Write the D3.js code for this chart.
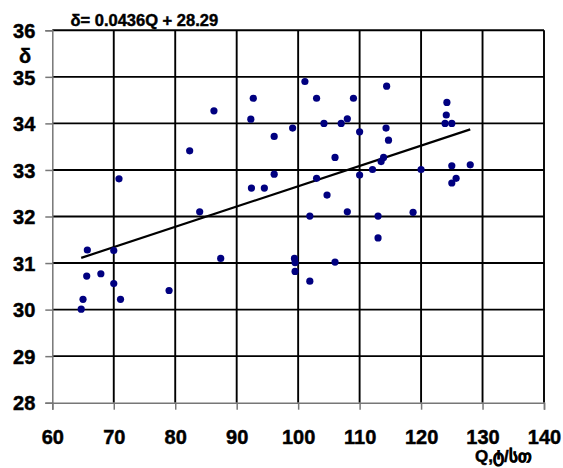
<!DOCTYPE html>
<html>
<head>
<meta charset="utf-8">
<script src="https://cdn.jsdelivr.net/npm/d3@7"></script>
<style>
  html, body { margin: 0; padding: 0; background: #fff; }
  svg { display: block; }
  text { font-family: "Liberation Sans", Arial, sans-serif; font-weight: bold; fill: #000; }
</style>
</head>
<body>
<svg id="chart" width="563" height="468"></svg>
<script>
// Discharge Q and measured δ for each observation
const qValues = [
  86.3, 82.35, 70.85, 83.98, 65.7, 70.0, 87.4, 65.6, 67.9, 70.0, 79.0, 65.0, 71.1, 64.7,
  92.7, 92.3, 101.1, 103.0, 96.1, 99.1, 104.2, 107.0, 108.0, 106.0, 96.1, 92.4, 94.5,
  103.0, 104.7, 108.0, 101.9, 99.4, 99.5, 99.5, 106.0, 101.9,
  114.4, 109.0, 110.0, 114.3, 114.7, 113.9, 113.5, 112.1, 110.0, 120.0, 124.2, 124.1,
  123.9, 125.0, 125.0, 128.0, 125.7, 125.0, 113.0, 118.7, 113.0
];
const deltaValues = [
  34.27, 33.41, 32.81, 32.10, 31.28, 31.27, 31.10, 30.72, 30.77, 30.56, 30.41, 30.22, 30.22, 30.01,
  34.54, 34.09, 34.90, 34.54, 33.72, 33.90, 34.00, 34.00, 34.10, 33.27, 32.91, 32.61, 32.61,
  32.82, 32.46, 32.10, 32.01, 31.10, 31.01, 30.82, 31.02, 30.61,
  34.80, 34.54, 33.82, 33.90, 33.64, 33.27, 33.18, 33.01, 32.89, 33.01, 34.45, 34.18,
  34.00, 34.00, 33.09, 33.11, 32.82, 32.72, 32.01, 32.09, 31.54
];

// Linear fit δ = slope·Q + intercept
const slope = 0.0436;
const intercept = 28.29;

const xTicks = [60, 70, 80, 90, 100, 110, 120, 130, 140];
const yTicks = [28, 29, 30, 31, 32, 33, 34, 35, 36];
const titleText = "δ= 0.0436Q + 28.29";
const xTitle = "Q,ტ/სთ";
const yTitle = "δ";

const svg = d3.select("#chart");
const x = d3.scaleLinear().domain([60, 140]).range([52.3, 544]);
const y = d3.scaleLinear().domain([28, 36]).range([402.7, 30.3]);

// heavy lettering used for every label
function heavy(sel, size) {
  sel.style("font-size", size + "px")
    .style("font-family", "'Liberation Sans', Arial, sans-serif")
    .style("font-weight", "bold")
    .attr("fill", "#000").attr("stroke", "#000").attr("stroke-width", 0.45);
}

// grid
const grid = svg.append("g");
grid.selectAll("line.h").data(yTicks.filter(v => v > 28)).join("line")
  .attr("x1", x(60)).attr("x2", x(140))
  .attr("y1", d => y(d)).attr("y2", d => y(d))
  .attr("stroke", "#000").attr("stroke-width", 1.9);
grid.selectAll("line.v").data(xTicks.filter(v => v > 60)).join("line")
  .attr("y1", y(28)).attr("y2", y(36))
  .attr("x1", d => x(d)).attr("x2", d => x(d))
  .attr("stroke", "#000").attr("stroke-width", 1.9);

// axes
const yAxis = d3.axisLeft(y).tickValues(yTicks).tickSize(7).tickFormat(d3.format("d"));
const gy = svg.append("g").attr("transform", `translate(${x(60)},0)`).call(yAxis);
gy.select(".domain").attr("stroke", "#777").attr("stroke-width", 1.5);
gy.selectAll(".tick line").attr("stroke", "#777").attr("stroke-width", 1.5);
gy.selectAll(".tick text").attr("x", -17).attr("dy", "0.36em").call(heavy, 20);

const xAxis = d3.axisBottom(x).tickValues(xTicks).tickSize(7).tickFormat(d3.format("d"));
const gx = svg.append("g").attr("transform", `translate(0,${y(28)})`).call(xAxis);
gx.select(".domain").attr("stroke", "#777").attr("stroke-width", 1.5);
gx.selectAll(".tick line").attr("stroke", "#777").attr("stroke-width", 1.5);
gx.selectAll(".tick text").attr("y", 27).attr("dy", "0.71em").call(heavy, 20);

// trend line across the observed Q range
const qExtent = d3.extent(qValues);
svg.append("line")
  .attr("x1", x(qExtent[0])).attr("y1", y(slope * qExtent[0] + intercept))
  .attr("x2", x(qExtent[1])).attr("y2", y(slope * qExtent[1] + intercept))
  .attr("stroke", "#000").attr("stroke-width", 2.2);

// observations
svg.append("g").selectAll("circle").data(qValues.map((q, i) => [q, deltaValues[i]])).join("circle")
  .attr("cx", d => x(d[0])).attr("cy", d => y(d[1]))
  .attr("r", 3.6).attr("fill", "#000080");

// titles
svg.append("text").attr("x", 70.5).attr("y", 26).call(heavy, 16.5).text(titleText);
svg.append("text").attr("x", 25).attr("y", 63).attr("text-anchor", "middle")
  .call(heavy, 20).text(yTitle);
svg.append("text").attr("x", 475).attr("y", 462).call(heavy, 17).text(xTitle);
</script>
</body>
</html>
